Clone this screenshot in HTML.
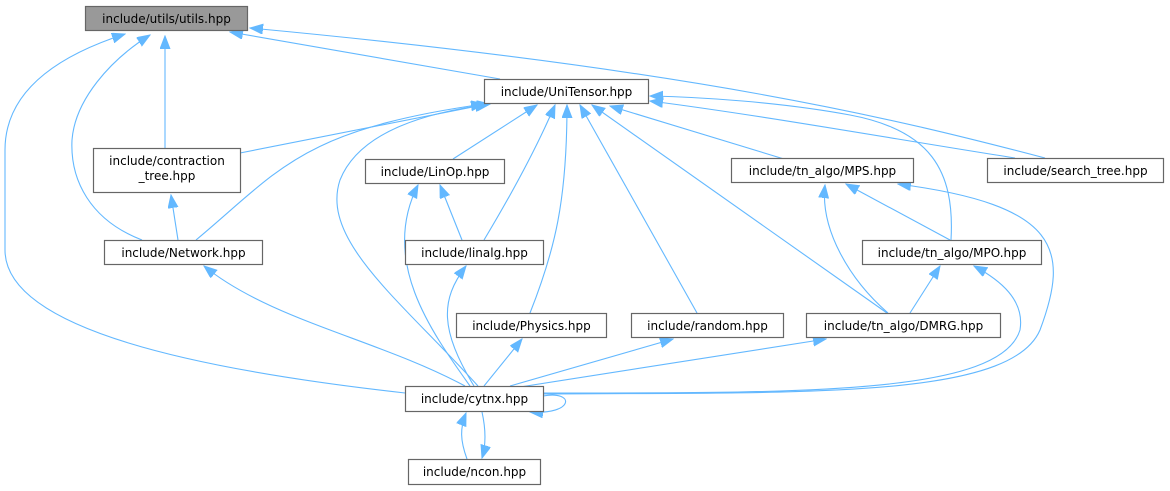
<!DOCTYPE html>
<html><head><meta charset="utf-8"><style>
html,body{margin:0;padding:0;background:#fff;width:1170px;height:491px;overflow:hidden}
svg{display:block}
text{font-family:"DejaVu Sans","Liberation Sans",sans-serif;font-size:12px;fill:#000}
.e{fill:none;stroke:#63b8ff;stroke-width:1.1}
.n{fill:#fff;stroke:#666;stroke-width:1.2}
</style></head><body>
<svg width="1170" height="491" viewBox="0 0 1170 491">
<defs>
<marker id="a" markerUnits="userSpaceOnUse" markerWidth="14" markerHeight="11" refX="13" refY="5" orient="auto">
<path d="M0,0 L13,5 L0,10 Z" fill="#63b8ff" stroke="#63b8ff"/>
</marker>
</defs>
<g class="e" marker-end="url(#a)">
<path d="M405,393 C200,370 5,330 5,250 L5,150 C5,90 60,55 125,34"/>
<path d="M142,240 C90,220 70,180 72,140 C75,100 110,60 150,35"/>
<path d="M165,148 L165,36"/>
<path d="M500,79 L230,32"/>
<path d="M1045,158 C900,120 700,70 250,28"/>
<path d="M240,153 L488,104"/>
<path d="M196,240 C280,170 300,130 484,104"/>
<path d="M478,386 C400,300 320,240 340,180 C360,130 430,112 490,104"/>
<path d="M453,159 L537,105"/>
<path d="M484,240 C520,180 540,140 555,105"/>
<path d="M530,313 C555,250 567,200 567,105"/>
<path d="M697,313 L580,105"/>
<path d="M887,313 L592,105"/>
<path d="M784,159 L610,106"/>
<path d="M951,240 C955,170 930,130 850,115 C780,102 700,97 650,96"/>
<path d="M1015,158 C900,140 760,115 650,101"/>
<path d="M462,240 L440,185"/>
<path d="M470,386 C430,330 380,260 418,185"/>
<path d="M474,386 C440,330 440,300 466,266"/>
<path d="M178,240 L171,195"/>
<path d="M465,386 C380,340 270,320 204,266"/>
<path d="M484,386 L522,339"/>
<path d="M510,386 L673,339"/>
<path d="M520,387 L826,339"/>
<path d="M950,240 L846,184"/>
<path d="M888,313 C850,280 820,230 825,185"/>
<path d="M543,394 C800,392 1010,400 1040,330 C1070,250 1060,205 898,184"/>
<path d="M910,313 L940,266"/>
<path d="M543,393 C800,393 1000,395 1020,330 C1025,300 1000,280 974,266"/>
<path d="M543,396 C575,390 575,415 530,412"/>
<path d="M467,459 C460,440 460,428 466,413"/>
<path d="M482,412 C486,430 486,445 482,458"/>
</g>
<g>
<rect x="85.5" y="6.5" width="162" height="24" fill="#999" stroke="#666" stroke-width="1.2"/>
<text x="166.5" y="23" text-anchor="middle">include/utils/utils.hpp</text>
<rect class="n" x="484.5" y="79.5" width="164" height="24"/>
<text x="566.5" y="96" text-anchor="middle">include/UniTensor.hpp</text>
<rect class="n" x="93.5" y="148.5" width="147" height="44"/>
<text x="167" y="165" text-anchor="middle">include/contraction</text>
<text x="167" y="180" text-anchor="middle">_tree.hpp</text>
<rect class="n" x="365.5" y="159.5" width="139" height="24"/>
<text x="435" y="176" text-anchor="middle">include/LinOp.hpp</text>
<rect class="n" x="731.5" y="158.5" width="182" height="24"/>
<text x="822.5" y="175" text-anchor="middle">include/tn_algo/MPS.hpp</text>
<rect class="n" x="987.5" y="158.5" width="176" height="24"/>
<text x="1075.5" y="175" text-anchor="middle">include/search_tree.hpp</text>
<rect class="n" x="104.5" y="240.5" width="158" height="24"/>
<text x="183.5" y="257" text-anchor="middle">include/Network.hpp</text>
<rect class="n" x="405.5" y="240.5" width="138" height="24"/>
<text x="474.5" y="257" text-anchor="middle">include/linalg.hpp</text>
<rect class="n" x="862.5" y="240.5" width="179" height="24"/>
<text x="952" y="257" text-anchor="middle">include/tn_algo/MPO.hpp</text>
<rect class="n" x="456.5" y="313.5" width="150" height="24"/>
<text x="531.5" y="330" text-anchor="middle">include/Physics.hpp</text>
<rect class="n" x="631.5" y="313.5" width="152" height="24"/>
<text x="707.5" y="330" text-anchor="middle">include/random.hpp</text>
<rect class="n" x="806.5" y="313.5" width="194" height="24"/>
<text x="903.5" y="330" text-anchor="middle">include/tn_algo/DMRG.hpp</text>
<rect class="n" x="405.5" y="386.5" width="138" height="25"/>
<text x="474.5" y="403" text-anchor="middle">include/cytnx.hpp</text>
<rect class="n" x="408.5" y="459.5" width="132" height="25"/>
<text x="474.5" y="476" text-anchor="middle">include/ncon.hpp</text>
</g>
</svg>
</body></html>
